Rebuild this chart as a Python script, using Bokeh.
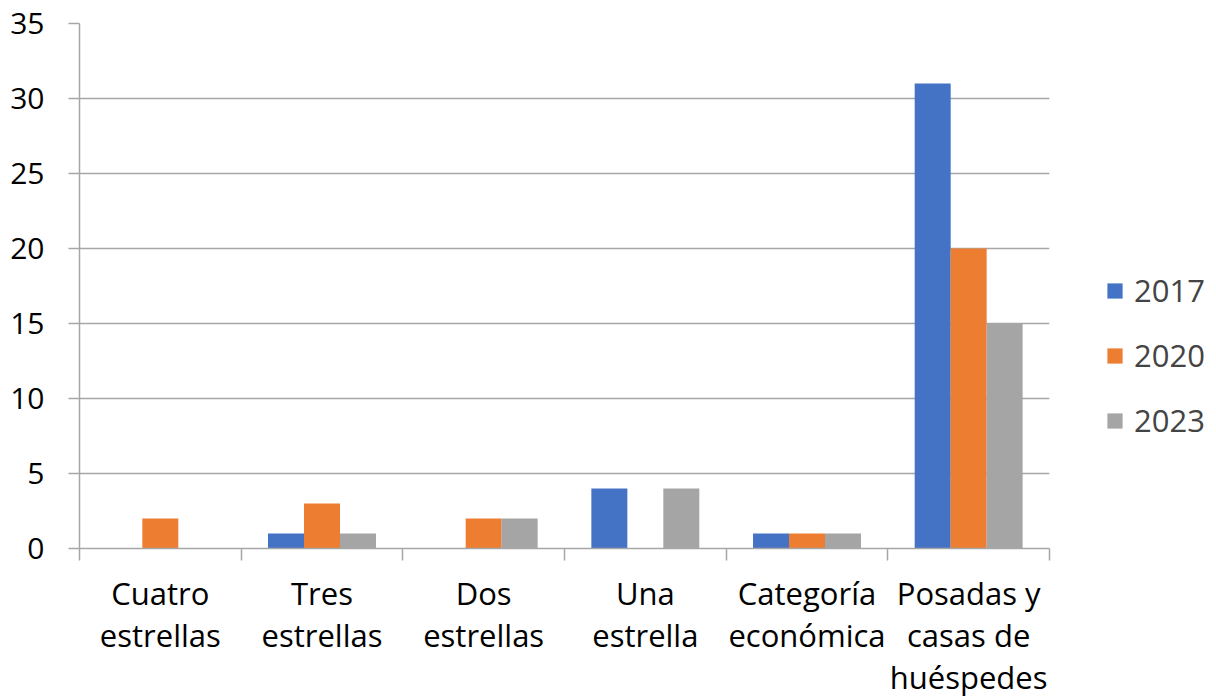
from bokeh.plotting import figure
from bokeh.models import ColumnDataSource, Range1d, FixedTicker, Legend, LegendItem
from bokeh.embed import file_html
from bokeh.resources import INLINE

categories = ["Cuatro\nestrellas", "Tres\nestrellas", "Dos\nestrellas", "Una\nestrella",
              "Categoría\neconómica", "Posadas y\ncasas de\nhuéspedes"]
years = ["2017", "2020", "2023"]
v2017 = [0, 1, 0, 4, 1, 31]
v2020 = [2, 3, 2, 0, 1, 20]
v2023 = [0, 1, 2, 4, 1, 15]
colors = ["#4472C4", "#ED7D31", "#A5A5A5"]

FONT = "Open Sans"
FS = "31px"
BW = 0.2226

p = figure(frame_width=970, frame_height=525, output_backend="svg", toolbar_location=None,
           x_range=Range1d(0, len(categories)), y_range=Range1d(0, 35),
           min_border_left=79, min_border_right=10, min_border_top=23, min_border_bottom=2)
p.outline_line_color = None
p.background_fill_color = "white"
p.border_fill_color = "white"

centers = [i + 0.5 for i in range(len(categories))]
renderers = []
for k, (yr, vals, c) in enumerate(zip(years, [v2017, v2020, v2023], colors)):
    xs = [cx + (k - 1) * BW for cx in centers]
    src = ColumnDataSource(dict(x=xs, top=vals))
    r = p.vbar(x="x", top="top", width=BW, bottom=0, source=src,
               fill_color=c, line_color=None)
    renderers.append(r)

# axes
xa = p.xaxis[0]
xa.ticker = FixedTicker(ticks=centers, minor_ticks=list(range(len(categories) + 1)))
xa.major_label_overrides = {cx: lab for cx, lab in zip(centers, categories)}
xa.major_tick_line_color = None
xa.major_tick_in = 0
xa.major_tick_out = 0
xa.minor_tick_in = 0
xa.minor_tick_out = 12
xa.minor_tick_line_color = "#a6a6a6"
xa.minor_tick_line_width = 1.5
xa.axis_line_color = "#a6a6a6"
xa.axis_line_width = 1.5
xa.major_label_text_font = FONT
xa.major_label_text_font_size = FS
xa.major_label_text_line_height = 1.0
xa.major_label_text_color = "#000000"
xa.major_label_standoff = 11

ya = p.yaxis[0]
ya.ticker = FixedTicker(ticks=[0, 5, 10, 15, 20, 25, 30, 35])
ya.minor_tick_line_color = None
ya.major_tick_in = 0
ya.major_tick_out = 11
ya.major_tick_line_color = "#a6a6a6"
ya.major_tick_line_width = 1.5
ya.axis_line_color = "#a6a6a6"
ya.axis_line_width = 1.5
ya.major_label_text_font = FONT
ya.major_label_text_font_size = "30px"
ya.major_label_text_color = "#000000"
ya.major_label_standoff = 24

p.xgrid.grid_line_color = None
p.ygrid.grid_line_color = "#a6a6a6"
p.ygrid.grid_line_width = 1.5
p.ygrid.ticker = FixedTicker(ticks=[5, 10, 15, 20, 25, 30, 35])

legend = Legend(items=[LegendItem(label=y, renderers=[r]) for y, r in zip(years, renderers)],
                location=(56, 107), orientation="vertical",
                glyph_width=19, glyph_height=19, label_text_font=FONT,
                label_text_font_size=FS, label_height=42, spacing=23,
                label_standoff=10, padding=0, margin=0,
                border_line_color=None, background_fill_alpha=0)
p.add_layout(legend, "right")

open("out.html", "w").write(file_html(p, INLINE))
